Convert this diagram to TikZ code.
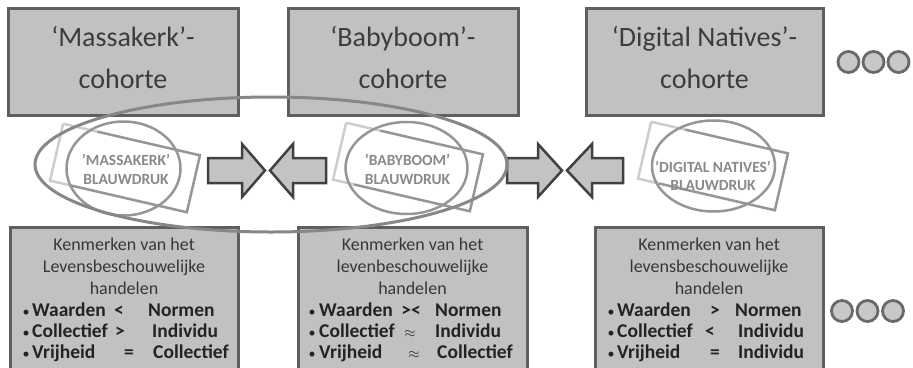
\documentclass[tikz,border=0pt]{standalone}
\usepackage{fontspec}
\setmainfont{Carlito}
\usetikzlibrary{shapes.geometric,calc}
\definecolor{boxfill}{RGB}{193,193,193}
\definecolor{boxline}{RGB}{95,95,95}
\definecolor{toptxt}{RGB}{60,60,60}
\definecolor{bodytxt}{RGB}{55,55,55}
\definecolor{boldtxt}{RGB}{35,35,35}
\definecolor{stampcol}{RGB}{150,150,150}
\definecolor{stamplight}{RGB}{205,205,205}
\definecolor{stamptxt}{RGB}{138,138,138}
\definecolor{bigell}{RGB}{135,135,135}
\definecolor{arrfill}{RGB}{195,195,195}
\definecolor{arrline}{RGB}{65,65,65}
\definecolor{dotfill}{RGB}{200,200,200}
\definecolor{dotline}{RGB}{105,105,105}
\tikzset{
  topbox/.style={draw=boxline, fill=boxfill, line width=3pt, inner sep=0pt},
  topline/.style={anchor=base, inner sep=0pt, text=toptxt, font=\fontsize{28}{32}\selectfont},
  botline/.style={anchor=base, inner sep=0pt, text=bodytxt, font=\fontsize{18}{22}\selectfont},
  bword/.style={anchor=base west, inner sep=0pt, text=boldtxt, font=\bfseries\fontsize{19.5}{22}\selectfont},
  bsym/.style={anchor=base, inner sep=0pt, text=boldtxt, font=\bfseries\fontsize{19.5}{22}\selectfont},
  bbul/.style={anchor=base, inner sep=0pt, text=boldtxt, font=\fontsize{14}{22}\selectfont},
  stampc/.style={ellipse, draw=stampcol, line width=2.5pt, inner sep=0pt},
  stampr/.style={rectangle, inner sep=0pt, rotate=-13},
  stampedge/.style={draw=stampcol, line width=2.5pt},
  stampfaint/.style={draw=stamplight, line width=2.5pt},
  stamptext/.style={anchor=base, inner sep=0pt, text=stamptxt, font=\bfseries\fontsize{15.5}{18}\selectfont},
  arr/.style={draw=arrline, fill=arrfill, line width=2.5pt, line join=miter},
  dotc/.style={circle, draw=dotline, fill=dotfill, line width=2.8pt, minimum size=21pt, inner sep=0pt},
  bigring/.style={ellipse, draw=bigell, line width=3pt, inner sep=0pt}
}
\begin{document}
\begin{tikzpicture}[x=1pt,y=-1pt]
\useasboundingbox[fill=white] (0,0) rectangle (913,367);
% top boxes
\node[topbox, minimum width=230pt, minimum height=107pt] (t1) at (123,61.5) {};
\node[topbox, minimum width=230pt, minimum height=107pt] (t2) at (403,61.5) {};
\node[topbox, minimum width=237pt, minimum height=107pt] (t3) at (704.5,61.5) {};
\node[topline] (t1a) at (123,46) {‘Massakerk’-};
\node[topline] (t1b) at (123,88) {cohorte};
\node[topline] (t2a) at (403,46) {‘Babyboom’-};
\node[topline] (t2b) at (403,88) {cohorte};
\node[topline] (t3a) at (704.5,46) {‘Digital Natives’-};
\node[topline] (t3b) at (704.5,88) {cohorte};
\node[dotc] (d1) at (848.5,62) {};
\node[dotc] (d2) at (873.5,62) {};
\node[dotc] (d3) at (898.5,62) {};
% stamps
\foreach \n/\cx/\cy/\ex/\ey/\rx/\ry in {1/123.5/168.5/114/94/125/168, 2/406.5/168/122/92/408/167, 3/713.5/166/123/91/713/166}{
  \node[stampr, minimum width=140pt, minimum height=58pt] (r\n) at (\rx,\ry) {};
  \draw[stampfaint] (r\n.north west) -- ($(r\n.north west)!0.25!(r\n.north east)$);
  \draw[stampedge] ($(r\n.north west)!0.25!(r\n.north east)$) -- (r\n.north east) -- (r\n.south east) -- ($(r\n.south east)!0.85!(r\n.south west)$);
  \draw[stampfaint] ($(r\n.south east)!0.85!(r\n.south west)$) -- (r\n.south west) -- (r\n.north west);
  \node[stampc, minimum width=\ex pt, minimum height=\ey pt] (c\n) at (\cx,\cy) {};
}
\node[stamptext] (s1a) at (126,165) {'MASSAKERK'};
\node[stamptext] (s1b) at (126,184) {BLAUWDRUK};
\node[stamptext] (s2a) at (407.5,165) {'BABYBOOM'};
\node[stamptext] (s2b) at (407.5,184) {BLAUWDRUK};
\node[stamptext] (s3a) at (713,172) {'DIGITAL NATIVES'};
\node[stamptext] (s3b) at (713,190) {BLAUWDRUK};
% arrows
\draw[arr, shift={(208,170.5)}] (0,-12.5) -- (34,-12.5) -- (34,-26.5) -- (57,0) -- (34,26.5) -- (34,12.5) -- (0,12.5) -- cycle;
\draw[arr, shift={(270,170.5)}] (0,0) -- (23,-26.5) -- (23,-12.5) -- (56,-12.5) -- (56,12.5) -- (23,12.5) -- (23,26.5) -- cycle;
\draw[arr, shift={(507,170.5)}] (0,-12.5) -- (31,-12.5) -- (31,-26.5) -- (55,0) -- (31,26.5) -- (31,12.5) -- (0,12.5) -- cycle;
\draw[arr, shift={(567,170.5)}] (0,0) -- (25,-26.5) -- (25,-12.5) -- (56,-12.5) -- (56,12.5) -- (25,12.5) -- (25,26.5) -- cycle;
% bottom boxes
\node[topbox, minimum width=228pt, minimum height=146pt] (b1) at (124,300) {};
\node[topbox, minimum width=229pt, minimum height=146pt] (b2) at (412.5,300) {};
\node[topbox, minimum width=228pt, minimum height=146pt] (b3) at (709,300) {};
\node[botline] (b1h1) at (124,250) {Kenmerken van het};
\node[botline] (b1h2) at (124,272) {Levensbeschouwelijke};
\node[botline] (b1h3) at (124,294) {handelen};
\node[botline] (b2h1) at (412.5,250) {Kenmerken van het};
\node[botline] (b2h2) at (412.5,272) {levenbeschouwelijke};
\node[botline] (b2h3) at (412.5,294) {handelen};
\node[botline] (b3h1) at (709,250) {Kenmerken van het};
\node[botline] (b3h2) at (709,272) {levensbeschouwelijke};
\node[botline] (b3h3) at (709,294) {handelen};
% box 1 bullets
\node[bbul] (b1u1) at (26,316) {•};
\node[bbul] (b1u2) at (26,337) {•};
\node[bbul] (b1u3) at (26,358) {•};
\node[bword] (b1w1) at (32,316) {Waarden};
\node[bword] (b1w2) at (32,337) {Collectief};
\node[bword] (b1w3) at (32,358) {Vrijheid};
\node[bsym] (b1s1) at (119,316) {<};
\node[bsym] (b1s2) at (120,337) {>};
\node[bsym] (b1s3) at (129,358) {=};
\node[bword] (b1v1) at (148,316) {Normen};
\node[bword] (b1v2) at (152,337) {Individu};
\node[bword] (b1v3) at (153,358) {Collectief};
% box 2 bullets
\node[bbul] (b2u1) at (312,316) {•};
\node[bbul] (b2u2) at (312,337) {•};
\node[bbul] (b2u3) at (312,358) {•};
\node[bword] (b2w1) at (319,316) {Waarden};
\node[bword] (b2w2) at (319,337) {Collectief};
\node[bword] (b2w3) at (319,358) {Vrijheid};
\node[bsym] (b2s1) at (411,316) {><};
\node[bsym, font=\fontsize{14}{14}\selectfont] (b2s2) at (410,337) {$\approx$};
\node[bsym, font=\fontsize{14}{14}\selectfont] (b2s3) at (414,358) {$\approx$};
\node[bword] (b2v1) at (435,316) {Normen};
\node[bword] (b2v2) at (435,337) {Individu};
\node[bword] (b2v3) at (437,358) {Collectief};
% box 3 bullets
\node[bbul] (b3u1) at (611,316) {•};
\node[bbul] (b3u2) at (611,337) {•};
\node[bbul] (b3u3) at (611,358) {•};
\node[bword] (b3w1) at (617,316) {Waarden};
\node[bword] (b3w2) at (617,337) {Collectief};
\node[bword] (b3w3) at (617,358) {Vrijheid};
\node[bsym] (b3s1) at (715,316) {>};
\node[bsym] (b3s2) at (710,337) {<};
\node[bsym] (b3s3) at (715,358) {=};
\node[bword] (b3v1) at (735,316) {Normen};
\node[bword] (b3v2) at (738,337) {Individu};
\node[bword] (b3v3) at (738,358) {Individu};
\node[dotc] (e1) at (842,311) {};
\node[dotc] (e2) at (867.5,311) {};
\node[dotc] (e3) at (893,311) {};
% big ellipse
\node[bigring, minimum width=472pt, minimum height=135pt] (big) at (271,164.5) {};
\end{tikzpicture}
\end{document}
